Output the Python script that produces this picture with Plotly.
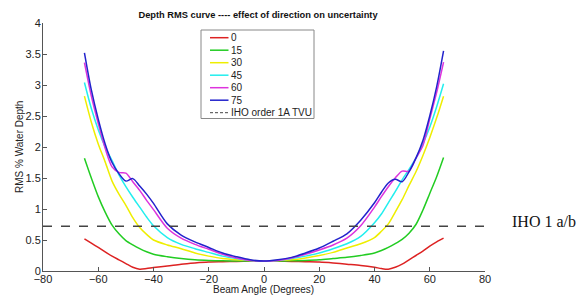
import plotly.graph_objects as go

angles = [-65, -62.5, -60, -57.5, -55, -52.5, -50, -47.5, -45, -42.5, -40,
          -35, -30, -25, -20, -15, -10, -5, 0, 5, 10, 15, 20, 25, 30, 35,
          40, 42.5, 45, 47.5, 50, 52.5, 55, 57.5, 60, 62.5, 65]

rms_0 = [0.52, 0.45, 0.38, 0.31, 0.24, 0.18, 0.12, 0.06, 0.03, 0.04, 0.055,
         0.08, 0.11, 0.13, 0.145, 0.15, 0.155, 0.16, 0.16, 0.16, 0.155, 0.15, 0.145, 0.13, 0.11, 0.09,
         0.06, 0.04, 0.03, 0.06, 0.11, 0.18, 0.25, 0.32, 0.40, 0.47, 0.53]
rms_15 = [1.82, 1.50, 1.20, 0.95, 0.74, 0.60, 0.49, 0.42, 0.36, 0.31, 0.27,
          0.23, 0.20, 0.18, 0.17, 0.165, 0.16, 0.16, 0.16, 0.16, 0.165, 0.17, 0.18, 0.20, 0.22, 0.25,
          0.29, 0.33, 0.38, 0.44, 0.51, 0.61, 0.75, 0.98, 1.25, 1.52, 1.83]
rms_30 = [2.82, 2.40, 2.05, 1.76, 1.45, 1.24, 1.06, 0.86, 0.70, 0.59, 0.50,
          0.42, 0.36, 0.29, 0.24, 0.20, 0.18, 0.17, 0.16, 0.17, 0.18, 0.21, 0.25, 0.30, 0.37, 0.44,
          0.54, 0.64, 0.76, 0.95, 1.15, 1.38, 1.60, 1.86, 2.15, 2.47, 2.82]
rms_45 = [3.04, 2.62, 2.28, 2.00, 1.78, 1.55, 1.36, 1.19, 1.03, 0.87, 0.73,
          0.54, 0.43, 0.36, 0.30, 0.24, 0.20, 0.17, 0.16, 0.17, 0.20, 0.24, 0.29, 0.36, 0.44, 0.56,
          0.78, 0.92, 1.10, 1.28, 1.47, 1.64, 1.82, 2.05, 2.32, 2.65, 3.02]
rms_60 = [3.36, 2.82, 2.38, 1.98, 1.68, 1.59, 1.58, 1.44, 1.30, 1.14, 0.99,
          0.69, 0.53, 0.43, 0.35, 0.27, 0.21, 0.17, 0.16, 0.17, 0.21, 0.27, 0.34, 0.42, 0.53, 0.73,
          1.03, 1.20, 1.36, 1.50, 1.61, 1.61, 1.82, 2.02, 2.45, 2.88, 3.37]
rms_75 = [3.52, 2.92, 2.45, 2.05, 1.75, 1.57, 1.45, 1.49, 1.37, 1.24, 1.09,
          0.76, 0.58, 0.47, 0.38, 0.29, 0.23, 0.18, 0.16, 0.18, 0.22, 0.29, 0.37, 0.48, 0.60, 0.82,
          1.10, 1.27, 1.42, 1.48, 1.44, 1.60, 1.82, 2.10, 2.50, 2.97, 3.55]

iho_x = [-80, 80]
iho_y = [0.72, 0.72]

x_ticks = [-80, -60, -40, -20, 0, 20, 40, 60, 80]
y_ticks = [0, 0.5, 1, 1.5, 2, 2.5, 3, 3.5, 4]
y_ticktext = ["0", "0.5", "1", "1.5", "2", "2.5", "3", "3.5", "4"]

series_names = ["0", "15", "30", "45", "60", "75"]
iho_name = "IHO order 1A TVU"
series_vals = [rms_0, rms_15, rms_30, rms_45, rms_60, rms_75]
colors = ["#dd2222", "#22cc22", "#eeee00", "#22eeee", "#dd33dd", "#2222cc"]
iho_color = "#444444"

# figure geometry (pixels)
W, H = 584, 296
L, R, T, B = 43, 99, 23, 25
PW, PH = W - L - R, H - T - B


def px_x(p):
    return (p - L) / PW


def px_y(p):
    return (H - B - p) / PH


fig = go.Figure()
for name, vals, col in zip(series_names, series_vals, colors):
    fig.add_trace(go.Scatter(x=angles, y=vals, mode="lines", name=name, showlegend=False,
                             line=dict(color=col, width=1.5, shape="spline", smoothing=0.8)))
fig.add_trace(go.Scatter(x=iho_x, y=iho_y, mode="lines", name=iho_name, showlegend=False,
                         line=dict(color=iho_color, width=1.5, dash="dash")))

# compact MATLAB-style legend box
shapes = [dict(type="rect", xref="paper", yref="paper",
               x0=px_x(201), x1=px_x(314), y0=px_y(118.5), y1=px_y(30),
               line=dict(color="#888888", width=1), fillcolor="white", layer="above")]
annotations = []
leg_labels = series_names + [iho_name]
leg_colors = colors + [iho_color]
row0, row_step = 37.7, 12.5
for i, (lab, col) in enumerate(zip(leg_labels, leg_colors)):
    yy = px_y(row0 + i * row_step)
    shapes.append(dict(type="line", xref="paper", yref="paper",
                       x0=px_x(210), x1=px_x(228.5), y0=yy, y1=yy, layer="above",
                       line=dict(color=col, width=1.5 if i < 6 else 1,
                                 dash="solid" if i < 6 else "3px,2px")))
    annotations.append(dict(text=lab, xref="paper", yref="paper", x=px_x(229), y=yy,
                            xanchor="left", yanchor="middle", showarrow=False,
                            font=dict(size=10, color="#222222")))

annotations.append(dict(text="IHO 1 a/b", xref="paper", yref="y", x=px_x(510), y=0.8,
                        xanchor="left", yanchor="middle", showarrow=False,
                        font=dict(family="Liberation Serif, Times New Roman, serif", size=16,
                                  color="#111111")))
annotations.append(dict(text="Beam Angle (Degrees)", xref="paper", yref="paper",
                        x=px_x(263), y=px_y(289.5), xanchor="center", yanchor="middle",
                        showarrow=False, font=dict(size=10, color="#222222")))
annotations.append(dict(text="RMS % Water Depth", xref="paper", yref="paper",
                        x=px_x(19), y=px_y(147), xanchor="center", yanchor="middle",
                        textangle=-90, showarrow=False, font=dict(size=10, color="#222222")))

fig.update_layout(
    width=W, height=H,
    margin=dict(l=L, r=R, t=T, b=B),
    paper_bgcolor="white", plot_bgcolor="white",
    font=dict(family="Liberation Sans, Arial, sans-serif", size=10, color="#222222"),
    title=dict(text="<b>Depth RMS curve ---- effect of direction on uncertainty</b>",
               x=258 / W, xref="container", xanchor="center",
               y=1 - 15 / H, yref="container", yanchor="middle",
               font=dict(size=9.3, color="#111111")),
    showlegend=False,
    shapes=shapes,
    annotations=annotations,
    xaxis=dict(range=[-80, 80], tickmode="array", tickvals=x_ticks,
               showgrid=False, zeroline=False, showline=True, linecolor="#555555", linewidth=1,
               ticks="inside", ticklen=4, tickcolor="#555555", automargin=False,
               tickfont=dict(size=11), ticklabelstandoff=-2),
    yaxis=dict(range=[0, 4], tickmode="array", tickvals=y_ticks, ticktext=y_ticktext,
               showgrid=False, zeroline=False, showline=True, linecolor="#555555", linewidth=1,
               ticks="inside", ticklen=4, tickcolor="#555555", automargin=False,
               tickfont=dict(size=11), ticklabelstandoff=-1),
)

fig.write_html("out.html", config={"displayModeBar": False},
               post_script="document.body.style.margin='0';document.body.style.overflow='hidden';")
